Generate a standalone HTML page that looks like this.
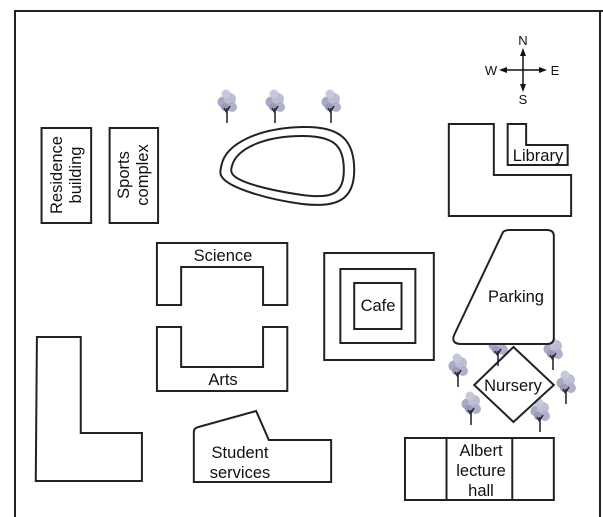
<!DOCTYPE html>
<html><head><meta charset="utf-8"><style>
html,body{margin:0;padding:0;background:#fff;}
svg{display:block;}
text{font-family:"Liberation Sans",Arial,sans-serif;font-size:16.5px;fill:#111;}
</style></head><body>
<svg width="603" height="517" viewBox="0 0 603 517" xmlns="http://www.w3.org/2000/svg">
<defs>
<g id="tree">
  <circle cx="-4" cy="-4" r="5.5" fill="#a9a9c4"/>
  <circle cx="3" cy="-7" r="6" fill="#bdbdd4"/>
  <circle cx="5" cy="1" r="5" fill="#b0b0ca"/>
  <circle cx="-1" cy="-12" r="4.5" fill="#c8c8dc"/>
  <circle cx="-2" cy="1" r="4" fill="#9a9ab6"/>
  <path d="M0,17 L0,2 M0,7 L-3,2 M0,5 L3,0" stroke="#2a2a3a" stroke-width="1.6" fill="none"/>
</g>
</defs>
<use href="#tree" x="227" y="106"/>
<use href="#tree" x="275" y="106"/>
<use href="#tree" x="331" y="106"/>
<use href="#tree" x="498" y="349"/>
<use href="#tree" x="553" y="353"/>
<use href="#tree" x="458" y="370"/>
<use href="#tree" x="566" y="387"/>
<use href="#tree" x="471" y="408"/>
<use href="#tree" x="540" y="415"/>
<path d="M600,11 L600,517" stroke="#222" stroke-width="2" fill="none"/>
<g transform="scale(1.1538,1)" fill="none" stroke="#222" stroke-width="2">
  <path vector-effect="non-scaling-stroke" d="M13,517 L13,11 L603,11"/>
  <rect vector-effect="non-scaling-stroke" x="36" y="128" width="43" height="95"/>
  <rect vector-effect="non-scaling-stroke" x="95" y="128" width="42" height="95"/>
  <path vector-effect="non-scaling-stroke" d="M192,165 C196,143 225,128 262,127 C295,126 307,140 307,170 C307,200 292,208 262,204 C230,199 200,188 193,178 C190,174 191,170 192,165 Z"/>
  <path vector-effect="non-scaling-stroke" d="M201,166 C205,148 230,136 262,136 C290,136 298,146 298,170 C298,194 288,199 262,195 C232,190 210,183 203,176 C200,173 200,170 201,166 Z"/>
  <path vector-effect="non-scaling-stroke" d="M389,124 L428,124 L428,175 L495,175 L495,216 L389,216 Z"/>
  <path vector-effect="non-scaling-stroke" d="M440,124 L456,124 L456,145 L492,145 L492,165 L440,165 Z"/>
  <path vector-effect="non-scaling-stroke" d="M136,243 L249,243 L249,305 L228,305 L228,267 L157,267 L157,305 L136,305 Z"/>
  <path vector-effect="non-scaling-stroke" d="M136,327 L157,327 L157,367 L228,367 L228,327 L249,327 L249,391 L136,391 Z"/>
  <rect vector-effect="non-scaling-stroke" x="281" y="253" width="95" height="107"/>
  <rect vector-effect="non-scaling-stroke" x="295" y="269" width="65" height="74"/>
  <rect vector-effect="non-scaling-stroke" x="307" y="283" width="41" height="46"/>
  <path vector-effect="non-scaling-stroke" fill="#fff" d="M436,232 Q438,230 442,230 L474,230 Q480,230 480,236 L480,338 Q480,344 474,344 L400,344 Q390,344 394,334 Z"/>
  <path vector-effect="non-scaling-stroke" d="M445,347 L480,385 L445,422 L411,385 Z"/>
  <rect vector-effect="non-scaling-stroke" x="351" y="438" width="129" height="62"/>
  <path vector-effect="non-scaling-stroke" d="M387,438 L387,500 M444,438 L444,500"/>
  <path vector-effect="non-scaling-stroke" d="M168,432 Q168,428 172,427 L222,411 L233,440 L287,440 L287,482 L168,482 Z"/>
  <path vector-effect="non-scaling-stroke" d="M32,337 L70,337 L70,433 L123,433 L123,481 L31,481 Z"/>
</g>
<g stroke="#111" stroke-width="1.5" fill="#111">
  <line x1="523" y1="52" x2="523" y2="88"/>
  <line x1="503" y1="70" x2="543" y2="70"/>
  <path d="M523,48 L520,56 L526,56 Z M523,92 L520,84 L526,84 Z M499,70 L507,67 L507,73 Z M547,70 L539,67 L539,73 Z" stroke="none"/>
</g>
<text x="523" y="45" text-anchor="middle" style="font-size:13px">N</text>
<text x="523" y="104" text-anchor="middle" style="font-size:13px">S</text>
<text x="491" y="75" text-anchor="middle" style="font-size:13px">W</text>
<text x="555" y="75" text-anchor="middle" style="font-size:13px">E</text>
<text transform="translate(62,175) rotate(-90)" text-anchor="middle">Residence</text>
<text transform="translate(81,175) rotate(-90)" text-anchor="middle">building</text>
<text transform="translate(129,175) rotate(-90)" text-anchor="middle">Sports</text>
<text transform="translate(148,175) rotate(-90)" text-anchor="middle">complex</text>
<text x="538" y="161" text-anchor="middle">Library</text>
<text x="223" y="261" text-anchor="middle">Science</text>
<text x="223" y="385" text-anchor="middle">Arts</text>
<text x="378" y="311" text-anchor="middle">Cafe</text>
<text x="516" y="302" text-anchor="middle">Parking</text>
<text x="513" y="391" text-anchor="middle">Nursery</text>
<text x="481" y="456" text-anchor="middle">Albert</text>
<text x="481" y="476" text-anchor="middle">lecture</text>
<text x="481" y="496" text-anchor="middle">hall</text>
<text x="240" y="458" text-anchor="middle">Student</text>
<text x="240" y="478" text-anchor="middle">services</text>
</svg>
</body></html>
